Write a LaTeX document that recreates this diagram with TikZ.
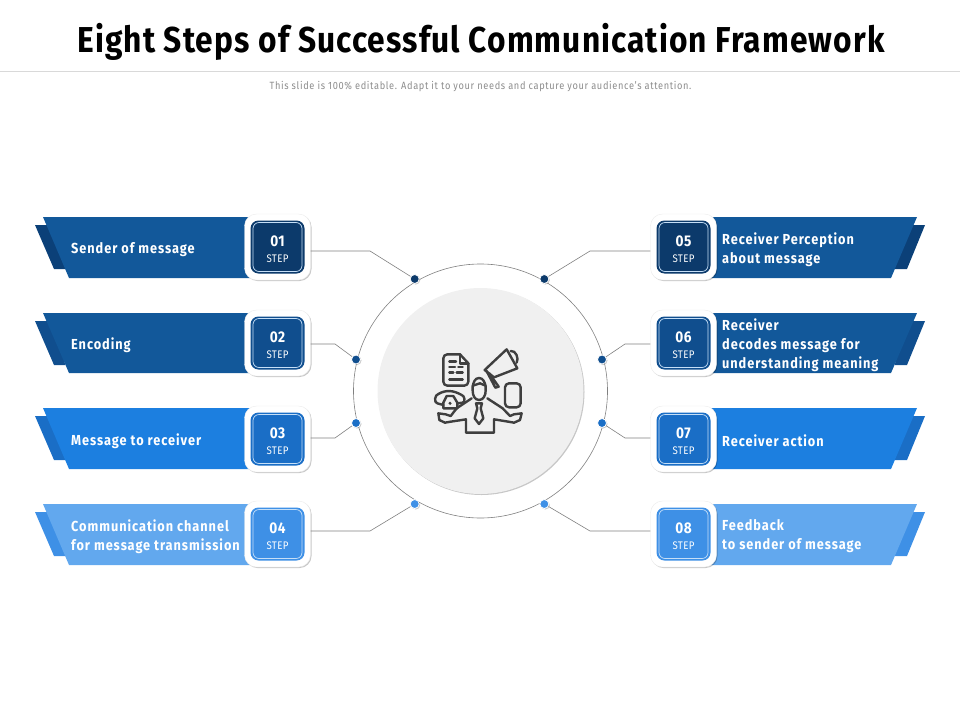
\documentclass[tikz,border=0pt]{standalone}
\usepackage{fontspec}
\setmainfont{Fira Sans}[FakeStretch=0.88]
\usepackage{xcolor}
\usetikzlibrary{shadows}
\definecolor{mynavy}{HTML}{0C3A6B}
\definecolor{myflapa}{HTML}{0B4078}
\definecolor{mydeep}{HTML}{12589A}
\definecolor{myflapb}{HTML}{104E8E}
\definecolor{myblue}{HTML}{1C7FE0}
\definecolor{myflapc}{HTML}{1A6EC6}
\definecolor{mysky}{HTML}{62A8EE}
\definecolor{myflapd}{HTML}{3E90E6}
\definecolor{myink}{HTML}{3F3F3F}
\tikzset{
softshadow/.style={drop shadow={shadow xshift=1pt,shadow yshift=-1pt,fill=black,opacity=.22}},
whitebox/.style={draw=black!8,fill=white,rounded corners=12pt,minimum size=66pt,softshadow},
colorbox/.style={rounded corners=8pt,minimum width=54pt,minimum height=53pt},
linebox/.style={draw=white!75!myblue,line width=.7pt,rounded corners=6pt,minimum size=49pt},
steptext/.style={text=white,align=center,inner sep=0pt,font=\fontsize{11}{15.5}\selectfont\addfontfeatures{LetterSpace=3}},
bantext/.style={anchor=west,text=white,align=left,inner sep=0pt,font=\fontsize{14.5}{19}\selectfont\bfseries\addfontfeatures{LetterSpace=6.5}},
dotmark/.style={circle,draw=white,line width=.8pt,inner sep=0pt,minimum size=9pt,softshadow},
wire/.style={draw=black!50,line width=.6pt},
iconline/.style={draw=myink,line width=2.4pt,line join=round,line cap=round}
}
\newcommand{\stepno}[1]{{\fontsize{15.5}{15.5}\selectfont\bfseries #1}}
\begin{document}
\begin{tikzpicture}[x=1pt,y=-1pt]
\useasboundingbox (0,0) rectangle (960,720);
% header
\node (title) at (481,41.5) {\fontsize{36}{40}\selectfont\bfseries\addfontfeatures{LetterSpace=3.1}Eight Steps of Successful Communication Framework};
\draw [black!15,line width=.8pt] (0,71) -- (960,71);
\node [text=black!45] (subtitle) at (480.5,86.5) {\fontsize{10.5}{12}\selectfont\addfontfeatures{LetterSpace=6.1}This slide is 100\% editable. Adapt it to your needs and capture your audience's attention.};
% centre
\draw [black!50,line width=.6pt] (480.5,391) circle (127);
\node [circle,fill=black!6,minimum size=206pt,softshadow] (hub) at (480.5,391) {};
% left banners
\fill [myflapa] (35,225) -- (60,225) -- (65,269) -- (54,269) -- cycle;
\fill [mydeep] (43,217) -- (250,217) -- (250,278) -- (69,278) -- cycle;
\fill [myflapb] (35,321) -- (60,321) -- (65,365) -- (54,365) -- cycle;
\fill [mydeep] (43,313) -- (250,313) -- (250,373) -- (69,373) -- cycle;
\fill [myflapc] (35,416) -- (60,416) -- (65,460) -- (54,460) -- cycle;
\fill [myblue] (43,408) -- (250,408) -- (250,469) -- (69,469) -- cycle;
\fill [myflapd] (35,512) -- (60,512) -- (65,556) -- (54,556) -- cycle;
\fill [mysky] (43,504) -- (250,504) -- (250,565) -- (69,565) -- cycle;
% right banners
\fill [myflapa] (925,225) -- (900,225) -- (895,269) -- (907,269) -- cycle;
\fill [mydeep] (917,217) -- (710,217) -- (710,278) -- (891,278) -- cycle;
\fill [myflapb] (925,321) -- (900,321) -- (895,365) -- (907,365) -- cycle;
\fill [mydeep] (917,313) -- (710,313) -- (710,373) -- (891,373) -- cycle;
\fill [myflapc] (925,416) -- (900,416) -- (895,460) -- (907,460) -- cycle;
\fill [myblue] (917,408) -- (710,408) -- (710,469) -- (891,469) -- cycle;
\fill [myflapd] (925,512) -- (900,512) -- (895,556) -- (907,556) -- cycle;
\fill [mysky] (917,504) -- (710,504) -- (710,565) -- (891,565) -- cycle;
% banner texts
\node [bantext] (text1) at (71,250) {Sender of message};
\node [bantext] (text2) at (71,345) {Encoding};
\node [bantext] (text3) at (71,441) {Message to receiver};
\node [bantext] (text4) at (71,536.5) {Communication channel\\for message transmission};
\node [bantext] (text5) at (722,249.5) {Receiver Perception\\about message};
\node [bantext] (text6) at (722,345) {Receiver\\decodes message for\\understanding meaning};
\node [bantext] (text7) at (722,441) {Receiver action};
\node [bantext] (text8) at (722,536.5) {Feedback\\to sender of message};
% step boxes
\node [whitebox] (box1) at (277.5,247) {};
\node [whitebox] (box2) at (277.5,343) {};
\node [whitebox] (box3) at (277.5,439) {};
\node [whitebox] (box4) at (277.5,534) {};
\node [whitebox] (box5) at (683.5,247) {};
\node [whitebox] (box6) at (683.5,343) {};
\node [whitebox] (box7) at (683.5,439) {};
\node [whitebox] (box8) at (683.5,534) {};
\node [colorbox,fill=mynavy] at (box1) {};
\node [colorbox,fill=myflapb] at (box2) {};
\node [colorbox,fill=myflapc] at (box3) {};
\node [colorbox,fill=myflapd] at (box4) {};
\node [colorbox,fill=mynavy] at (box5) {};
\node [colorbox,fill=myflapb] at (box6) {};
\node [colorbox,fill=myflapc] at (box7) {};
\node [colorbox,fill=myflapd] at (box8) {};
\node [linebox] at (box1) {};
\node [linebox] at (box2) {};
\node [linebox] at (box3) {};
\node [linebox] at (box4) {};
\node [linebox] at (box5) {};
\node [linebox] at (box6) {};
\node [linebox] at (box7) {};
\node [linebox] at (box8) {};
\node [steptext] (step1) at (277.5,249) {\stepno{01}\\STEP};
\node [steptext] (step2) at (277.5,345) {\stepno{02}\\STEP};
\node [steptext] (step3) at (277.5,441) {\stepno{03}\\STEP};
\node [steptext] (step4) at (277.5,536) {\stepno{04}\\STEP};
\node [steptext] (step5) at (683.5,249) {\stepno{05}\\STEP};
\node [steptext] (step6) at (683.5,345) {\stepno{06}\\STEP};
\node [steptext] (step7) at (683.5,441) {\stepno{07}\\STEP};
\node [steptext] (step8) at (683.5,536) {\stepno{08}\\STEP};
% connectors
\coordinate (bend1) at (370,251);
\coordinate (bend2) at (335,344);
\coordinate (bend3) at (335,438);
\coordinate (bend4) at (370,531);
\coordinate (bend5) at (590,251);
\coordinate (bend6) at (625,344);
\coordinate (bend7) at (625,438);
\coordinate (bend8) at (590,531);
\node [dotmark,fill=mynavy] (dot1) at (414.7,279) {};
\node [dotmark,fill=myflapb] (dot2) at (356,359.5) {};
\node [dotmark,fill=myflapc] (dot3) at (356,423) {};
\node [dotmark,fill=myflapd] (dot4) at (414.7,504) {};
\node [dotmark,fill=mynavy] (dot5) at (544.3,279) {};
\node [dotmark,fill=myflapb] (dot6) at (602,359.5) {};
\node [dotmark,fill=myflapc] (dot7) at (602,423) {};
\node [dotmark,fill=myflapd] (dot8) at (544.3,504) {};
\draw [wire] (box1.east |- bend1) -- (bend1) -- (dot1);
\draw [wire] (box2.east |- bend2) -- (bend2) -- (dot2);
\draw [wire] (box3.east |- bend3) -- (bend3) -- (dot3);
\draw [wire] (box4.east |- bend4) -- (bend4) -- (dot4);
\draw [wire] (box5.west |- bend5) -- (bend5) -- (dot5);
\draw [wire] (box6.west |- bend6) -- (bend6) -- (dot6);
\draw [wire] (box7.west |- bend7) -- (bend7) -- (dot7);
\draw [wire] (box8.west |- bend8) -- (bend8) -- (dot8);
% icon
\begin{scope}[shift={(400,320)},scale=1/3]
% document
\draw [iconline] (180,103) -- (142,103) to [out=180,in=90] (130,115) -- (130,185) to [out=-90,in=180] (142,197) -- (193,197) to [out=0,in=-90] (205,185) -- (205,130) -- cycle;
\draw [iconline] (180,103) -- (180,130) -- (205,130);
\draw [iconline] (148,125) -- (168,125) (148,141) -- (165,141) (175,141) -- (188,141) (148,158) -- (160,158) (170,158) -- (188,158) (148,178) -- (188,178);
% megaphone
\draw [iconline] (320,88) -- (352,145) -- (282,172) -- (254,150) -- cycle;
\draw [iconline] (332,93) to [out=10,in=60] (350,128);
\draw [iconline] (268,160) -- (296,200) -- (286,203) -- (258,150);
% mobile
\draw [iconline,rounded corners=4pt] (315,190) rectangle (362,262);
% head
\draw [iconline] (218,200) to [out=80,in=180] (237,174) to [out=0,in=100] (257,200) -- (257,212) to [out=-90,in=0] (237,240) to [out=180,in=-90] (218,212) -- cycle;
\draw [iconline] (218,197) -- (240,190) -- (257,197);
% body
\draw [iconline] (215,235) -- (170,265) -- (152,288) -- (137,283) -- (115,280) -- (118,300) -- (135,308) -- (152,305) -- (198,298) -- (198,338) -- (282,338) -- (282,298) -- (325,305) -- (342,308) -- (360,300) -- (365,280) -- (342,283) -- (330,288) -- (308,265) -- (262,235);
% tie
\draw [iconline] (228,250) -- (246,250) -- (242,265) -- (250,295) -- (237,312) -- (224,295) -- (232,265) -- cycle;
% telephone
\draw [iconline] (130,255) -- (112,250) to [out=170,in=190] (115,222) to [out=30,in=150] (185,225) to [out=-10,in=10] (188,248) -- (172,250);
\draw [iconline] (130,265) -- (130,248) -- (140,228) -- (160,228) -- (172,248) -- (172,265) -- cycle;
\fill [myink] (150,250) circle (5);
\end{scope}
\end{tikzpicture}
\end{document}
